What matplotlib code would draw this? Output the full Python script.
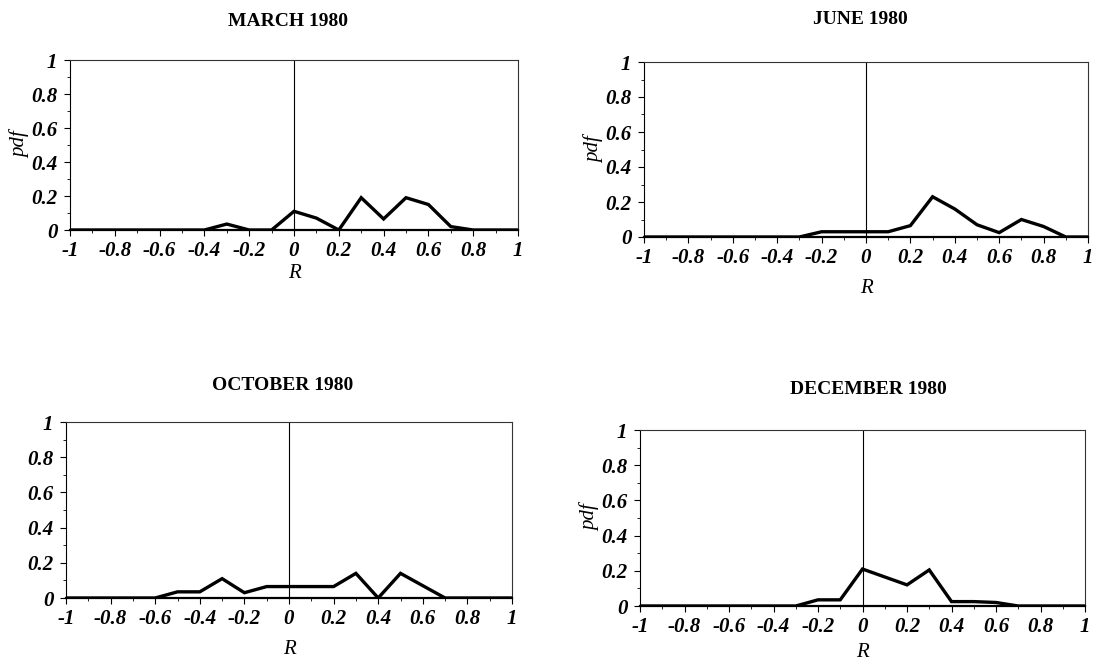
import matplotlib.pyplot as plt
import numpy as np
from matplotlib.ticker import MultipleLocator

plt.rcParams['font.family'] = ['Liberation Serif', 'DejaVu Serif']

# correlation classes, -1 .. 1 in steps of 0.1
r_bins = np.round(np.arange(-1.0, 1.0001, 0.1), 1)

pdf_march = [0, 0, 0, 0, 0, 0, 0, 0.035, 0, 0, 0.11,
             0.07, 0, 0.19, 0.065, 0.19, 0.15, 0.02, 0, 0, 0]
pdf_june = [0, 0, 0, 0, 0, 0, 0, 0, 0.03, 0.03, 0.03,
            0.03, 0.065, 0.23, 0.16, 0.07, 0.025, 0.1, 0.06, 0, 0]
pdf_october = [0, 0, 0, 0, 0, 0.035, 0.035, 0.11, 0.03, 0.065, 0.065,
               0.065, 0.065, 0.14, 0, 0.14, 0.07, 0, 0, 0, 0]
pdf_december = [0, 0, 0, 0, 0, 0, 0, 0, 0.035, 0.035, 0.21,
                0.165, 0.12, 0.205, 0.025, 0.025, 0.02, 0, 0, 0, 0]

titles = ['MARCH 1980', 'JUNE 1980', 'OCTOBER 1980', 'DECEMBER 1980']
series = [pdf_march, pdf_june, pdf_october, pdf_december]

xlabels = ['-1', '-0.8', '-0.6', '-0.4', '-0.2', '0',
           '0.2', '0.4', '0.6', '0.8', '1']
ylabels = ['0', '0.2', '0.4', '0.6', '0.8', '1']

W, H = 1093, 668
# axes boxes in pixels: left, top, right, bottom
boxes = [(70, 60, 518, 230),
         (644, 62, 1088, 237),
         (66, 422, 512, 598),
         (640, 430, 1085, 606)]
title_pos = [(288, 22), (860, 20), (283, 385), (868, 390)]
r_pad = [2, 8, 8, 4]

fig = plt.figure(figsize=(W / 100, H / 100), dpi=100)

for i in range(4):
    l, t, r, b = boxes[i]
    ax = fig.add_axes([l / W, 1 - b / H, (r - l) / W, (b - t) / H])
    ax.plot(r_bins, series[i], color='black', lw=2.4, solid_joinstyle='miter')
    ax.axvline(0, color='black', lw=0.8)
    ax.set_xlim(-1, 1)
    ax.set_ylim(0, 1)
    ax.set_xticks(np.round(np.arange(-1, 1.01, 0.2), 1))
    ax.set_xticklabels(xlabels)
    ax.set_yticks(np.round(np.arange(0, 1.01, 0.2), 1))
    ax.set_yticklabels(ylabels)
    ax.xaxis.set_minor_locator(MultipleLocator(0.1))
    ax.yaxis.set_minor_locator(MultipleLocator(0.1))
    ax.tick_params(which='major', length=4, width=0.8, labelsize=15, pad=5)
    ax.tick_params(axis='x', which='major', pad=4)
    ax.tick_params(which='minor', length=2.5, width=0.6)
    for lab in ax.get_xticklabels() + ax.get_yticklabels():
        lab.set_fontstyle('italic')
        lab.set_fontweight('bold')
    for sp in ax.spines.values():
        sp.set_linewidth(0.8)
        sp.set_color('#333333')
    ax.spines['left'].set_color('black')
    ax.spines['bottom'].set_color('black')
    ax.spines['bottom'].set_linewidth(1.6)
    ax.set_xlabel('R', fontsize=15, fontstyle='italic', labelpad=r_pad[i])
    if i != 2:
        ax.set_ylabel('pdf', fontsize=15, fontstyle='italic', labelpad=1)
    fig.text(title_pos[i][0] / W, 1 - title_pos[i][1] / H, titles[i],
             ha='center', va='center', fontsize=14, fontweight='bold')

fig.savefig('out.png', dpi=100)
